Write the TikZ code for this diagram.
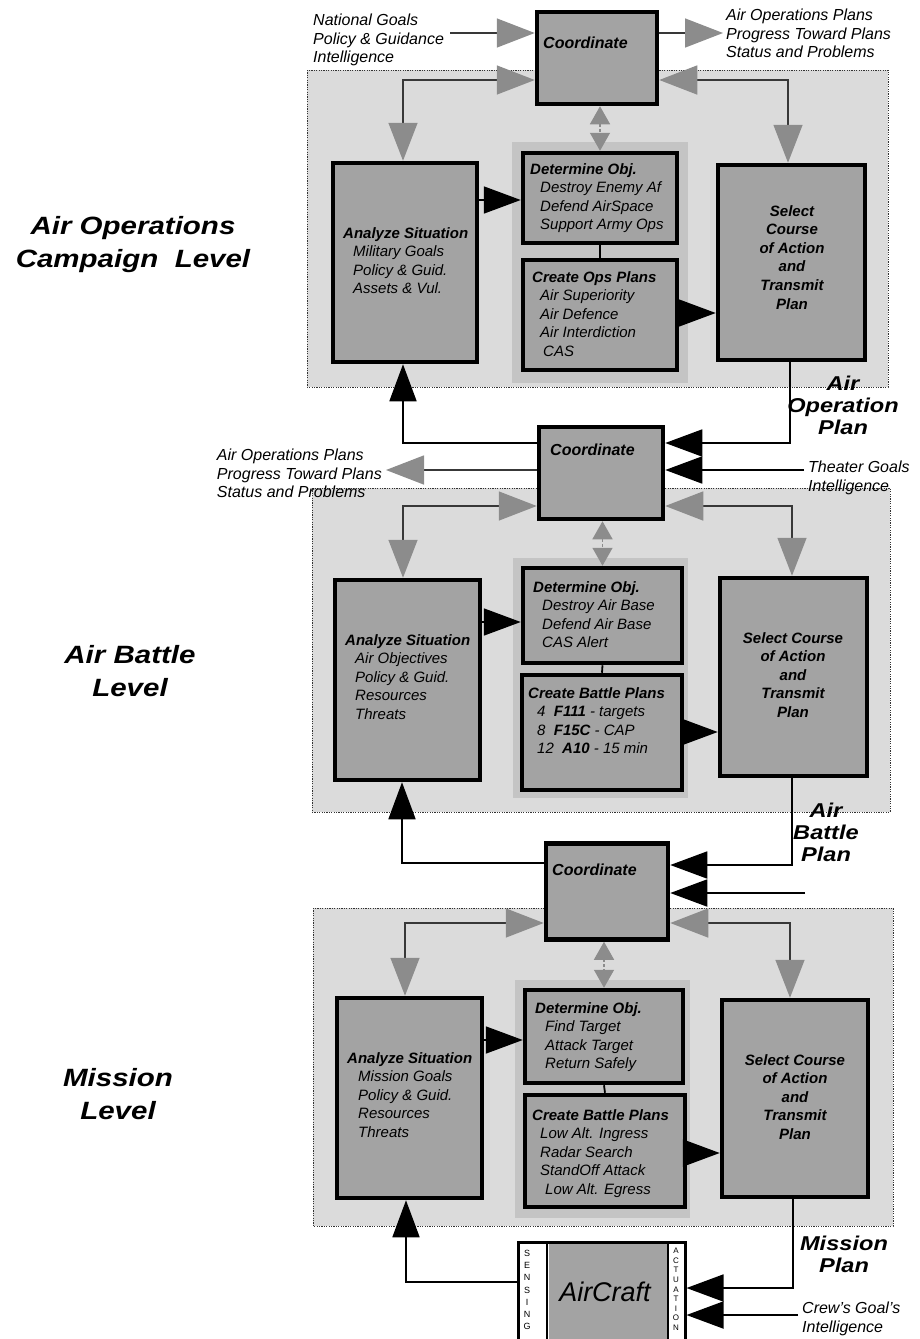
\documentclass[tikz,border=0pt]{standalone}
\usepackage{fontspec}
\setmainfont{Liberation Sans}
\newfontfamily\widefont[FakeStretch=1.18]{Liberation Sans}
\usetikzlibrary{arrows.meta}
\definecolor{panelfill}{gray}{0.86}
\definecolor{halofill}{gray}{0.77}
\definecolor{boxfill}{gray}{0.64}
\definecolor{flowgray}{gray}{0.55}
\definecolor{flowline}{gray}{0.22}

\begin{document}
\begin{tikzpicture}[x=1pt,y=-1pt,
  panel/.style={draw=black!80, line width=1pt, dash pattern=on 1.2pt off 1.2pt, fill=panelfill},
  halo/.style={fill=halofill},
  blkbox/.style={draw=black, line width=4.5pt, fill=boxfill, inner sep=0pt},
  boxtxt/.style={font=\fontsize{15}{18.5}\selectfont\itshape, align=left, inner sep=0pt, anchor=north west},
  seltxt/.style={font=\fontsize{15}{18.6}\selectfont\bfseries\itshape, align=center, inner sep=0pt, anchor=north},
  cotxt/.style={font=\fontsize{16}{18}\selectfont\bfseries\itshape, inner sep=0pt, anchor=north west},
  lbl/.style={font=\fontsize{16}{18.5}\selectfont\itshape, align=left, inner sep=0pt},
  lvl/.style={font=\widefont\fontsize{25}{33}\selectfont\bfseries\itshape, align=center, inner sep=0pt},
  plantxt/.style={font=\widefont\fontsize{20}{22}\selectfont\bfseries\itshape, align=center, inner sep=0pt},
  wire/.style={line width=1.8pt},
  blkarr/.style={wire, -{Triangle[length=37pt,width=27pt]}},
  fbarr/.style={line width=1.5pt, draw=flowline, arrows={Triangle[length=38pt,width=29pt,color=flowgray]-Triangle[length=38pt,width=29pt,color=flowgray]}},
  grayout/.style={line width=1.5pt, draw=flowline, arrows={-Triangle[length=38pt,width=29pt,color=flowgray]}},
  dblarr/.style={line width=1.5pt, draw=flowgray, dash pattern=on 3pt off 2pt, arrows={Triangle[length=18pt,width=20pt,color=flowgray]-Triangle[length=18pt,width=20pt,color=flowgray]}},
]
\useasboundingbox (0,0) rectangle (920,1339);

% ---------- panels and halos ----------
\filldraw[panel] (307,70) rectangle (888,387);
\fill[halo] (512,142) rectangle (688,383);
\filldraw[panel] (312,488) rectangle (890,812);
\fill[halo] (513,558) rectangle (688,798);
\filldraw[panel] (313,908) rectangle (893,1226);
\fill[halo] (515,980) rectangle (690,1218);

% ---------- level titles ----------
\node[lvl] (lv1) at (133,245) {Air Operations\\Campaign\ \ Level};
\node[lvl] (lv2) at (130,671) {Air Battle\\Level};
\node[lvl] (lv3) at (118,1094) {Mission\\Level};

% ---------- level 1: campaign ----------
\node[blkbox, minimum width=120pt, minimum height=92pt] (co1) at (597,58) {};
\node[blkbox, minimum width=144pt, minimum height=199pt] (an1) at (405,262.5) {};
\node[blkbox, minimum width=154pt, minimum height=90pt] (de1) at (600,198) {};
\node[blkbox, minimum width=154pt, minimum height=110pt] (cr1) at (600,315) {};
\node[blkbox, minimum width=147pt, minimum height=195pt] (se1) at (791.5,262.5) {};

\node[cotxt] (co1t) at (543,37) {Coordinate};
\node[boxtxt] (an1t) at (343,227) {\textbf{Analyze Situation}\\\hspace*{10pt}Military Goals\\\hspace*{10pt}Policy \& Guid.\\\hspace*{10pt}Assets \& Vul.};
\node[boxtxt] (de1t) at (530,163) {\textbf{Determine Obj.}\\\hspace*{10pt}Destroy Enemy Af\\\hspace*{10pt}Defend AirSpace\\\hspace*{10pt}Support Army Ops};
\node[boxtxt] (cr1t) at (532,271) {\textbf{Create Ops Plans}\\\hspace*{8pt}Air Superiority\\\hspace*{8pt}Air Defence\\\hspace*{8pt}Air Interdiction\\\hspace*{11pt}CAS};
\node[seltxt] (se1t) at (792,205) {Select\\Course\\of Action\\and\\Transmit\\Plan};

\node[lbl, anchor=north west] (nat) at (313,14) {National Goals\\Policy \& Guidance\\Intelligence};
\node[lbl, anchor=north west] (aopT) at (726,9) {Air Operations Plans\\Progress Toward Plans\\Status and Problems};
\node[plantxt] (aopl) at (843,405) {Air\\Operation\\Plan};

% ---------- level 2: air battle ----------
\node[blkbox, minimum width=124pt, minimum height=92pt] (co2) at (601,473) {};
\node[blkbox, minimum width=145pt, minimum height=200pt] (an2) at (407.5,680) {};
\node[blkbox, minimum width=159pt, minimum height=95pt] (de2) at (602.5,615.5) {};
\node[blkbox, minimum width=160pt, minimum height=115pt] (cr2) at (602,732.5) {};
\node[blkbox, minimum width=147pt, minimum height=198pt] (se2) at (793.5,677) {};

\node[cotxt] (co2t) at (550,444) {Coordinate};
\node[boxtxt] (an2t) at (345,634) {\textbf{Analyze Situation}\\\hspace*{10pt}Air Objectives\\\hspace*{10pt}Policy \& Guid.\\\hspace*{10pt}Resources\\\hspace*{10pt}Threats};
\node[boxtxt] (de2t) at (533,581) {\textbf{Determine Obj.}\\\hspace*{9pt}Destroy Air Base\\\hspace*{9pt}Defend Air Base\\\hspace*{9pt}CAS Alert};
\node[boxtxt] (cr2t) at (528,687) {\textbf{Create Battle Plans}\\\hspace*{9pt}4\ \ \textbf{F111} - targets\\\hspace*{9pt}8\ \ \textbf{F15C} - CAP\\\hspace*{9pt}12\ \ \textbf{A10} - 15 min};
\node[seltxt] (se2t) at (793,632) {Select Course\\of Action\\and\\Transmit\\Plan};

\node[lbl, anchor=north east] (aopM) at (382,449) {Air Operations Plans\\Progress Toward Plans\\Status and Problems};
\node[lbl, anchor=north west] (thr) at (808,461) {Theater Goals\\Intelligence};
\node[plantxt] (abpl) at (826,832) {Air\\Battle\\Plan};

% ---------- level 3: mission ----------
\node[blkbox, minimum width=122pt, minimum height=96pt] (co3) at (607,891.5) {};
\node[blkbox, minimum width=145pt, minimum height=200pt] (an3) at (409.5,1098) {};
\node[blkbox, minimum width=158pt, minimum height=93pt] (de3) at (604,1036.5) {};
\node[blkbox, minimum width=160pt, minimum height=112pt] (cr3) at (605,1151) {};
\node[blkbox, minimum width=146pt, minimum height=197pt] (se3) at (795,1098.5) {};

\node[cotxt] (co3t) at (552,864) {Coordinate};
\node[boxtxt] (an3t) at (347,1052) {\textbf{Analyze Situation}\\\hspace*{11pt}Mission Goals\\\hspace*{11pt}Policy \& Guid.\\\hspace*{11pt}Resources\\\hspace*{11pt}Threats};
\node[boxtxt] (de3t) at (535,1002) {\textbf{Determine Obj.}\\\hspace*{10pt}Find Target\\\hspace*{10pt}Attack Target\\\hspace*{10pt}Return Safely};
\node[boxtxt] (cr3t) at (532,1109) {\textbf{Create Battle Plans}\\\hspace*{8pt}Low Alt. Ingress\\\hspace*{8pt}Radar Search\\\hspace*{8pt}StandOff Attack\\\hspace*{13pt}Low Alt. Egress};
\node[seltxt] (se3t) at (795,1054) {Select Course\\of Action\\and\\Transmit\\Plan};

\node[plantxt] (mipl) at (844,1254) {Mission\\Plan};

% ---------- aircraft ----------
\node[draw=black, line width=3pt, fill=white, minimum width=167pt, minimum height=110pt, inner sep=0pt] (air) at (601.5,1297) {};
\fill[boxfill] (548.5,1243.5) rectangle (666.5,1352);
\draw[line width=2.5pt] (547,1242) -- (547,1352) (668,1242) -- (668,1352);
\node[font=\fontsize{27}{30}\selectfont\itshape, inner sep=0pt] (airt) at (605,1292) {AirCraft};
\node[font=\fontsize{9}{12.2}\selectfont, align=center, inner sep=0pt, anchor=north] (sens) at (527,1250) {S\\E\\N\\S\\I\\N\\G};
\node[font=\fontsize{8}{9.6}\selectfont, align=center, inner sep=0pt, anchor=north] (act) at (676,1248) {A\\C\\T\\U\\A\\T\\I\\O\\N};
\node[lbl, anchor=north west] (crew) at (802,1302) {Crew's Goal's\\Intelligence};

% ---------- connectors, level 1 ----------
\coordinate (y33) at (0,33);
\draw[grayout] ([xshift=6pt]nat.east |- y33) -- (co1.west |- y33);
\draw[grayout] (co1.east |- y33) -- ([xshift=-3pt]aopT.west |- y33);
\coordinate (f1l) at (403,80);
\coordinate (f1r) at (788,80);
\draw[fbarr] (co1.west |- f1l) -- (f1l) -- (f1l |- an1.north);
\draw[fbarr] (co1.east |- f1r) -- (f1r) -- (f1r |- se1.north);
\draw[dblarr] (de1.north |- co1.south) -- (de1.north);
\coordinate (y200) at (0,200);
\draw[blkarr] (an1.east |- y200) -- (de1.west |- y200);
\draw[wire] (de1.south) -- (cr1.north);
\coordinate (y313) at (0,313);
\draw[blkarr] (cr1.east |- y313) -- (se1.west |- y313);

% ---------- level 1 to level 2 ----------
\coordinate (r12) at (790,443);
\draw[blkarr] (se1.south -| r12) -- (r12) -- (co2.east |- r12);
\coordinate (l12) at (403,443);
\draw[blkarr] (co2.west |- l12) -- (l12) -- (l12 |- an1.south);
\coordinate (y470) at (0,470);
\draw[blkarr] ([xshift=-4pt]thr.west |- y470) -- (co2.east |- y470);
\draw[grayout] (co2.west |- y470) -- ([xshift=4pt]aopM.east |- y470);

% ---------- connectors, level 2 ----------
\coordinate (f2l) at (403,506);
\coordinate (f2r) at (792,506);
\draw[fbarr] (co2.west |- f2l) -- (f2l) -- (f2l |- an2.north);
\draw[fbarr] (co2.east |- f2r) -- (f2r) -- (f2r |- se2.north);
\draw[dblarr] (de2.north |- co2.south) -- (de2.north);
\coordinate (y622) at (0,622);
\draw[blkarr] (an2.east |- y622) -- (de2.west |- y622);
\draw[wire] (de2.south) -- (cr2.north);
\coordinate (y732) at (0,732);
\draw[blkarr] (cr2.east |- y732) -- (se2.west |- y732);

% ---------- level 2 to level 3 ----------
\coordinate (r23) at (792,865);
\draw[blkarr] (se2.south -| r23) -- (r23) -- (co3.east |- r23);
\coordinate (l23) at (402,863);
\draw[blkarr] (co3.west |- l23) -- (l23) -- (l23 |- an2.south);
\coordinate (in3) at (805,893);
\draw[blkarr] (in3) -- (co3.east |- in3);

% ---------- connectors, level 3 ----------
\coordinate (f3l) at (405,923);
\coordinate (f3r) at (790,923);
\draw[fbarr] (co3.west |- f3l) -- (f3l) -- (f3l |- an3.north);
\draw[fbarr] (co3.east |- f3r) -- (f3r) -- (f3r |- se3.north);
\draw[dblarr] (de3.north |- co3.south) -- (de3.north);
\coordinate (y1040) at (0,1040);
\draw[blkarr] (an3.east |- y1040) -- (de3.west |- y1040);
\draw[wire] (de3.south) -- (cr3.north);
\coordinate (y1153) at (0,1153);
\draw[blkarr] (cr3.east |- y1153) -- (se3.west |- y1153);

% ---------- level 3 to aircraft ----------
\coordinate (r3a) at (793,1288);
\draw[blkarr] (se3.south -| r3a) -- (r3a) -- (air.east |- r3a);
\coordinate (y1315) at (0,1315);
\draw[blkarr] ([xshift=-4pt]crew.west |- y1315) -- (air.east |- y1315);
\coordinate (l3a) at (406,1282);
\draw[blkarr] (air.west |- l3a) -- (l3a) -- (l3a |- an3.south);
\end{tikzpicture}
\end{document}
